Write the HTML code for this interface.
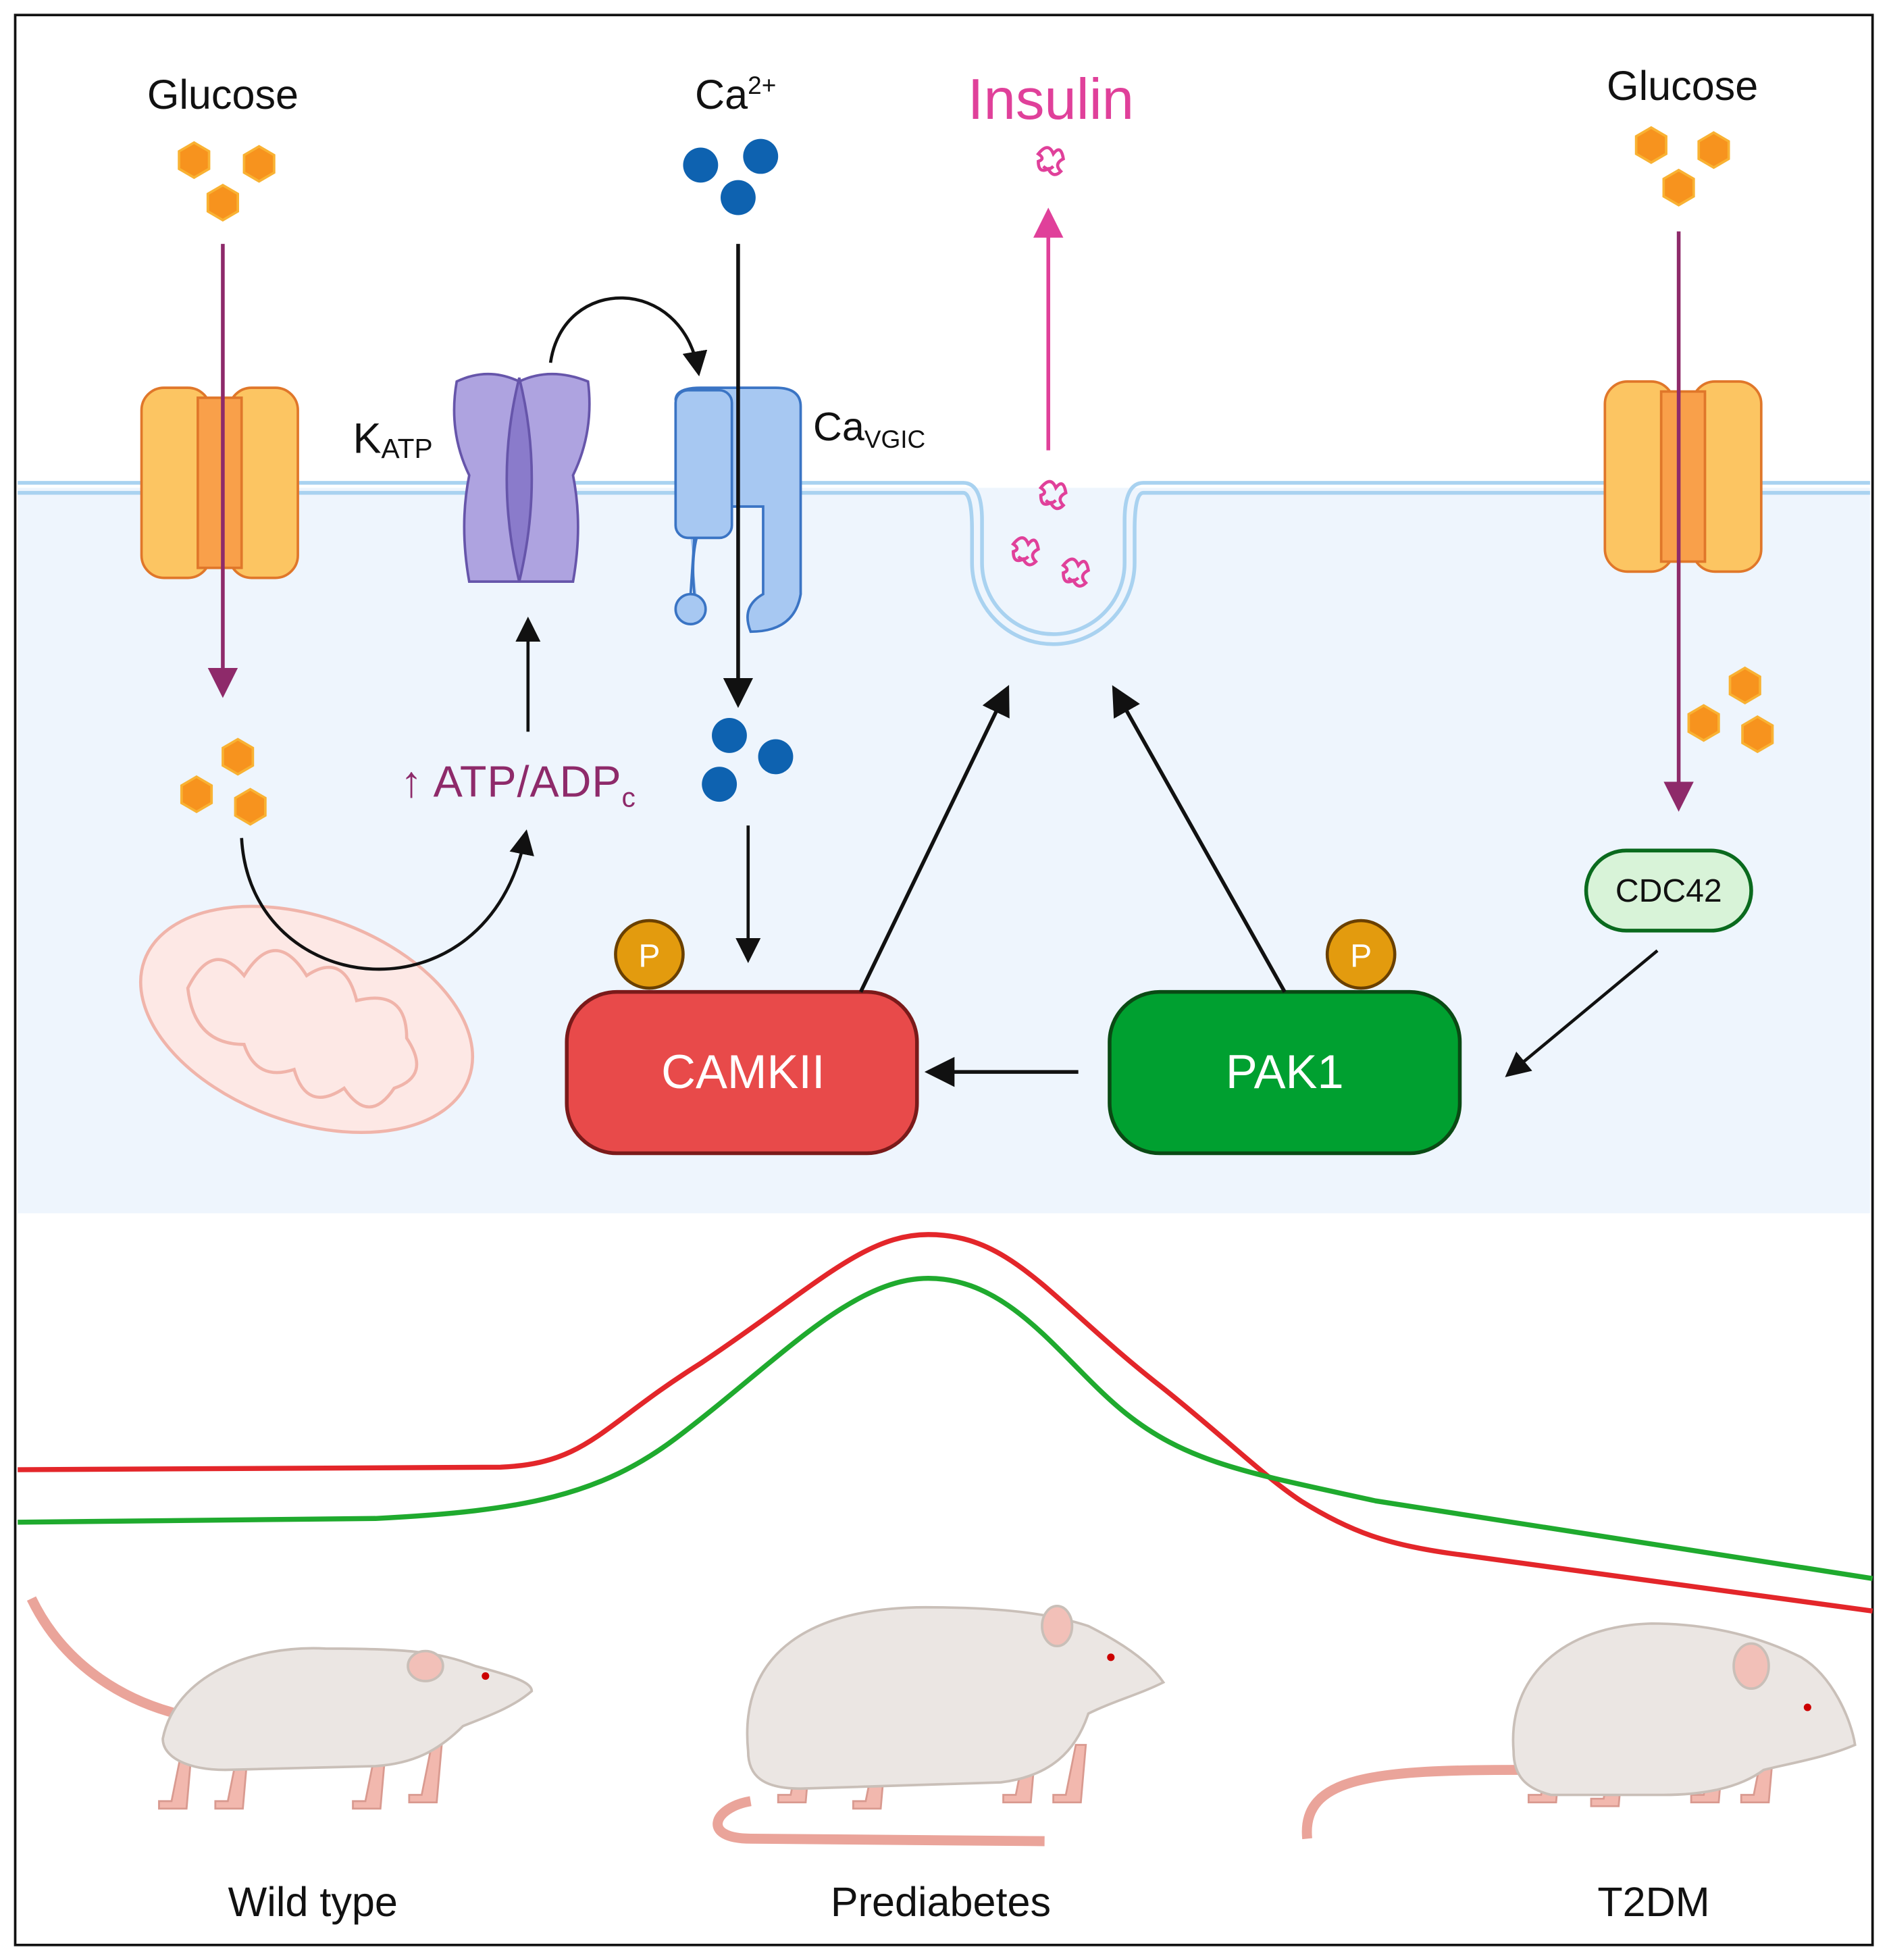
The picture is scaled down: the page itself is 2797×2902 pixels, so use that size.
<!DOCTYPE html>
<html><head><meta charset="utf-8"><style>html,body{margin:0;padding:0;background:#fff}svg{display:block}</style></head><body>
<svg width="2797" height="2902" viewBox="0 0 1510 1567" xmlns="http://www.w3.org/2000/svg" font-family="Liberation Sans, sans-serif">
<defs>
<marker id="ab" markerWidth="8" markerHeight="8" refX="6" refY="4" orient="auto" markerUnits="strokeWidth"><path d="M0,0 L8,4 L0,8 z" fill="#111"/></marker>
<marker id="ap" markerWidth="8" markerHeight="8" refX="6" refY="4" orient="auto" markerUnits="strokeWidth"><path d="M0,0 L8,4 L0,8 z" fill="#8e2a6a"/></marker>
<marker id="ak" markerWidth="8" markerHeight="8" refX="6" refY="4" orient="auto" markerUnits="strokeWidth"><path d="M0,0 L8,4 L0,8 z" fill="#e0409a"/></marker>
<g id="hex"><polygon points="0,-14 12,-7 12,7 0,14 -12,7 -12,-7" fill="#f7931e" stroke="#f9b233" stroke-width="2"/></g>
<g id="tr"><rect x="0" y="0" width="55" height="152" rx="18" fill="#fcc562" stroke="#e0772a" stroke-width="2"/><rect x="70" y="0" width="55" height="152" rx="18" fill="#fcc562" stroke="#e0772a" stroke-width="2"/><rect x="45" y="8" width="35" height="136" fill="#f9a04a" stroke="#e0772a" stroke-width="2"/></g>
<g id="ins" fill="none" stroke="#e0409a" stroke-width="2.5"><path d="M-8,-10 q8,-10 12,0 q6,-8 8,4 q-8,4 -2,10 q-6,6 -10,-2 q-8,4 -8,-6 q6,-2 0,-6z M-4,0 q4,4 8,0"/></g>
<g id="leg" fill="#f2b8ae" stroke="#d99a90" stroke-width="1.5"><path d="M0,0 l-8,40 h-10 l0,6 h22 l4,-46z"/></g>
</defs>
<rect x="0" y="0" width="1510" height="1567" fill="#fff"/>
<rect x="14" y="390" width="1481" height="580" fill="#eef5fd"/>
<rect x="12" y="12" width="1485" height="1543" fill="none" stroke="#111" stroke-width="2"/>
<path d="M14,386 H770 q15,0 15,30 V450 a57,57 0 0 0 114,0 V416 q0,-30 15,-30 H1495" fill="none" stroke="#a9d2f0" stroke-width="3"/>
<path d="M14,394 H770 q7,0 7,30 V450 a65,65 0 0 0 130,0 V424 q0,-30 7,-30 H1495" fill="none" stroke="#a9d2f0" stroke-width="3"/>
<text x="178" y="87" font-size="33" text-anchor="middle" fill="#111">Glucose</text>
<use href="#hex" x="155" y="128"/><use href="#hex" x="207" y="131"/><use href="#hex" x="178" y="162"/>
<use href="#tr" x="113" y="310"/>
<line x1="178" y1="195" x2="178" y2="552" stroke="#8e2a6a" stroke-width="3" marker-end="url(#ap)"/>
<use href="#hex" x="190" y="605"/><use href="#hex" x="157" y="635"/><use href="#hex" x="200" y="645"/>
<ellipse cx="245" cy="815" rx="138" ry="82" transform="rotate(20 245 815)" fill="#fde8e5" stroke="#f0b4aa" stroke-width="2.5"/>
<path d="M150,790 q20,-40 45,-10 q25,-40 50,0 q30,-20 40,20 q40,-10 40,30 q20,30 -10,40 q-20,30 -40,0 q-30,20 -40,-15 q-30,10 -40,-20 q-40,0 -45,-45z" fill="none" stroke="#f0b4aa" stroke-width="2.5"/>
<path d="M193,670 C200,800 390,820 420,668" fill="none" stroke="#111" stroke-width="2.5" marker-end="url(#ab)"/>
<text x="320" y="637" font-size="35" fill="#8e2a6a" letter-spacing="0.5">↑ ATP/ADP<tspan font-size="22" dy="8">c</tspan></text>
<line x1="422" y1="585" x2="422" y2="498" stroke="#111" stroke-width="2.5" marker-end="url(#ab)"/>
<text x="282" y="362" font-size="34" fill="#111">K<tspan font-size="22" dy="4">ATP</tspan></text>
<path d="M365,305 q25,-12 50,0 q25,-12 55,0 q5,40 -12,75 q8,40 0,85 h-83 q-8,-45 0,-85 q-17,-35 -10,-75z" fill="#aea3e0" stroke="#6655aa" stroke-width="2"/>
<path d="M415,302 q-20,80 0,163 q20,-83 0,-163z" fill="#8a7bcb" stroke="#6655aa" stroke-width="2"/>
<path d="M440,290 C450,220 545,220 558,296" fill="none" stroke="#111" stroke-width="2.5" marker-end="url(#ab)"/>
<text x="588" y="87" font-size="33" text-anchor="middle" fill="#111">Ca<tspan font-size="20" dy="-12">2+</tspan></text>
<circle cx="560" cy="132" r="14" fill="#0e62b0"/><circle cx="608" cy="125" r="14" fill="#0e62b0"/><circle cx="590" cy="158" r="14" fill="#0e62b0"/>
<path d="M540,320 q0,-10 20,-10 h60 q20,0 20,15 v150 q-5,30 -40,30 q-8,-20 10,-30 v-70 h-40 q-20,20 -15,70 l2,2" fill="#a7c8f2" stroke="#3a74c4" stroke-width="2"/>
<rect x="540" y="312" width="45" height="118" rx="10" fill="#a7c8f2" stroke="#3a74c4" stroke-width="2"/>
<line x1="555" y1="430" x2="552" y2="475" stroke="#3a74c4" stroke-width="2"/><circle cx="552" cy="487" r="12" fill="#a7c8f2" stroke="#3a74c4" stroke-width="2"/>
<text x="650" y="352" font-size="32" fill="#111">Ca<tspan font-size="20" dy="6">VGIC</tspan></text>
<line x1="590" y1="195" x2="590" y2="560" stroke="#111" stroke-width="3" marker-end="url(#ab)"/>
<circle cx="583" cy="588" r="14" fill="#0e62b0"/><circle cx="620" cy="605" r="14" fill="#0e62b0"/><circle cx="575" cy="627" r="14" fill="#0e62b0"/>
<line x1="598" y1="660" x2="598" y2="765" stroke="#111" stroke-width="2.5" marker-end="url(#ab)"/>
<text x="840" y="95" font-size="46" text-anchor="middle" fill="#e0409a">Insulin</text>
<use href="#ins" x="838" y="133"/><use href="#ins" x="840" y="400"/><use href="#ins" x="818" y="445"/><use href="#ins" x="858" y="462"/>
<line x1="838" y1="360" x2="838" y2="172" stroke="#e0409a" stroke-width="3" marker-end="url(#ak)"/>
<text x="1345" y="80" font-size="33" text-anchor="middle" fill="#111">Glucose</text>
<use href="#hex" x="1320" y="116"/><use href="#hex" x="1370" y="120"/><use href="#hex" x="1342" y="150"/>
<use href="#tr" x="1283" y="305"/>
<line x1="1342" y1="185" x2="1342" y2="643" stroke="#8e2a6a" stroke-width="3" marker-end="url(#ap)"/>
<use href="#hex" x="1395" y="548"/><use href="#hex" x="1362" y="578"/><use href="#hex" x="1405" y="587"/>
<rect x="1268" y="680" width="132" height="64" rx="32" fill="#d8f3d8" stroke="#0a6a1e" stroke-width="3"/>
<text x="1334" y="721" font-size="26" text-anchor="middle" fill="#111">CDC42</text>
<line x1="1325" y1="760" x2="1207" y2="858" stroke="#111" stroke-width="2.5" marker-end="url(#ab)"/>
<rect x="453" y="793" width="280" height="129" rx="40" fill="#e84a4a" stroke="#7a1a1a" stroke-width="3"/>
<text x="594" y="870" font-size="38" text-anchor="middle" fill="#fff">CAMKII</text>
<circle cx="519" cy="763" r="27" fill="#e39b0e" stroke="#6a4000" stroke-width="2.5"/><text x="519" y="773" font-size="26" text-anchor="middle" fill="#fff">P</text>
<rect x="887" y="793" width="280" height="129" rx="40" fill="#00a030" stroke="#0a4a14" stroke-width="3"/>
<text x="1027" y="870" font-size="38" text-anchor="middle" fill="#fff">PAK1</text>
<circle cx="1088" cy="763" r="27" fill="#e39b0e" stroke="#6a4000" stroke-width="2.5"/><text x="1088" y="773" font-size="26" text-anchor="middle" fill="#fff">P</text>
<line x1="862" y1="857" x2="745" y2="857" stroke="#111" stroke-width="3" marker-end="url(#ab)"/>
<line x1="688" y1="793" x2="804" y2="553" stroke="#111" stroke-width="3" marker-end="url(#ab)"/>
<line x1="1027" y1="793" x2="892" y2="553" stroke="#111" stroke-width="3" marker-end="url(#ab)"/>
<path d="M14,1175 L400,1173 C470,1170 480,1140 560,1090 C650,1030 690,987 742,987 C810,987 840,1040 930,1110 C980,1150 1010,1180 1040,1200 C1080,1225 1110,1235 1160,1242 L1497,1288" fill="none" stroke="#e3262a" stroke-width="4"/>
<path d="M14,1217 L300,1214 C420,1208 480,1195 540,1150 C620,1090 680,1022 742,1022 C810,1022 850,1090 900,1130 C950,1170 1000,1178 1100,1200 L1497,1262" fill="none" stroke="#1faa2e" stroke-width="4"/>
<!-- mice -->
<use href="#leg" x="145" y="1400"/><use href="#leg" x="190" y="1400"/><use href="#leg" x="300" y="1400"/><use href="#leg" x="345" y="1395"/>
<use href="#leg" x="640" y="1395"/><use href="#leg" x="700" y="1400"/><use href="#leg" x="820" y="1395"/><use href="#leg" x="860" y="1395"/>
<use href="#leg" x="1240" y="1395"/><use href="#leg" x="1290" y="1398"/><use href="#leg" x="1370" y="1395"/><use href="#leg" x="1410" y="1395"/>
<g fill="#ebe6e3" stroke="#c9bfb8" stroke-width="2">
<path d="M25,1278 C50,1330 100,1365 165,1375" fill="none" stroke="#eaa49a" stroke-width="8"/>
<path d="M130,1390 C140,1340 200,1315 260,1318 C320,1318 350,1320 380,1332 C410,1340 425,1345 425,1352 C410,1365 390,1372 370,1380 C350,1400 330,1410 300,1412 L180,1415 C150,1415 130,1405 130,1390z"/>
<ellipse cx="340" cy="1332" rx="14" ry="12" fill="#f2c0b8"/>
<path d="M600,1440 C570,1445 560,1470 600,1470 L835,1472" fill="none" stroke="#eaa49a" stroke-width="8"/>
<path d="M598,1400 C590,1320 650,1285 740,1285 C800,1285 840,1290 870,1300 C900,1315 920,1330 930,1345 C910,1355 890,1360 870,1370 C860,1400 840,1420 800,1425 L640,1430 C610,1430 598,1420 598,1400z"/>
<ellipse cx="845" cy="1300" rx="12" ry="16" fill="#f2c0b8"/>
<path d="M1045,1470 C1040,1420 1100,1415 1215,1415" fill="none" stroke="#eaa49a" stroke-width="8"/>
<path d="M1210,1400 C1205,1340 1250,1300 1320,1298 C1370,1298 1410,1310 1440,1325 C1465,1340 1480,1375 1483,1395 C1460,1405 1430,1410 1410,1415 C1390,1430 1360,1435 1330,1435 L1240,1435 C1220,1430 1210,1420 1210,1400z"/>
<ellipse cx="1400" cy="1332" rx="14" ry="18" fill="#f2c0b8"/>
</g>
<circle cx="388" cy="1340" r="3" fill="#c00"/><circle cx="888" cy="1325" r="3" fill="#c00"/><circle cx="1445" cy="1365" r="3" fill="#c00"/>
<text x="250" y="1532" font-size="33" text-anchor="middle" fill="#111">Wild type</text>
<text x="752" y="1532" font-size="33" text-anchor="middle" fill="#111">Prediabetes</text>
<text x="1322" y="1532" font-size="33" text-anchor="middle" fill="#111">T2DM</text>
</svg>
</body></html>
